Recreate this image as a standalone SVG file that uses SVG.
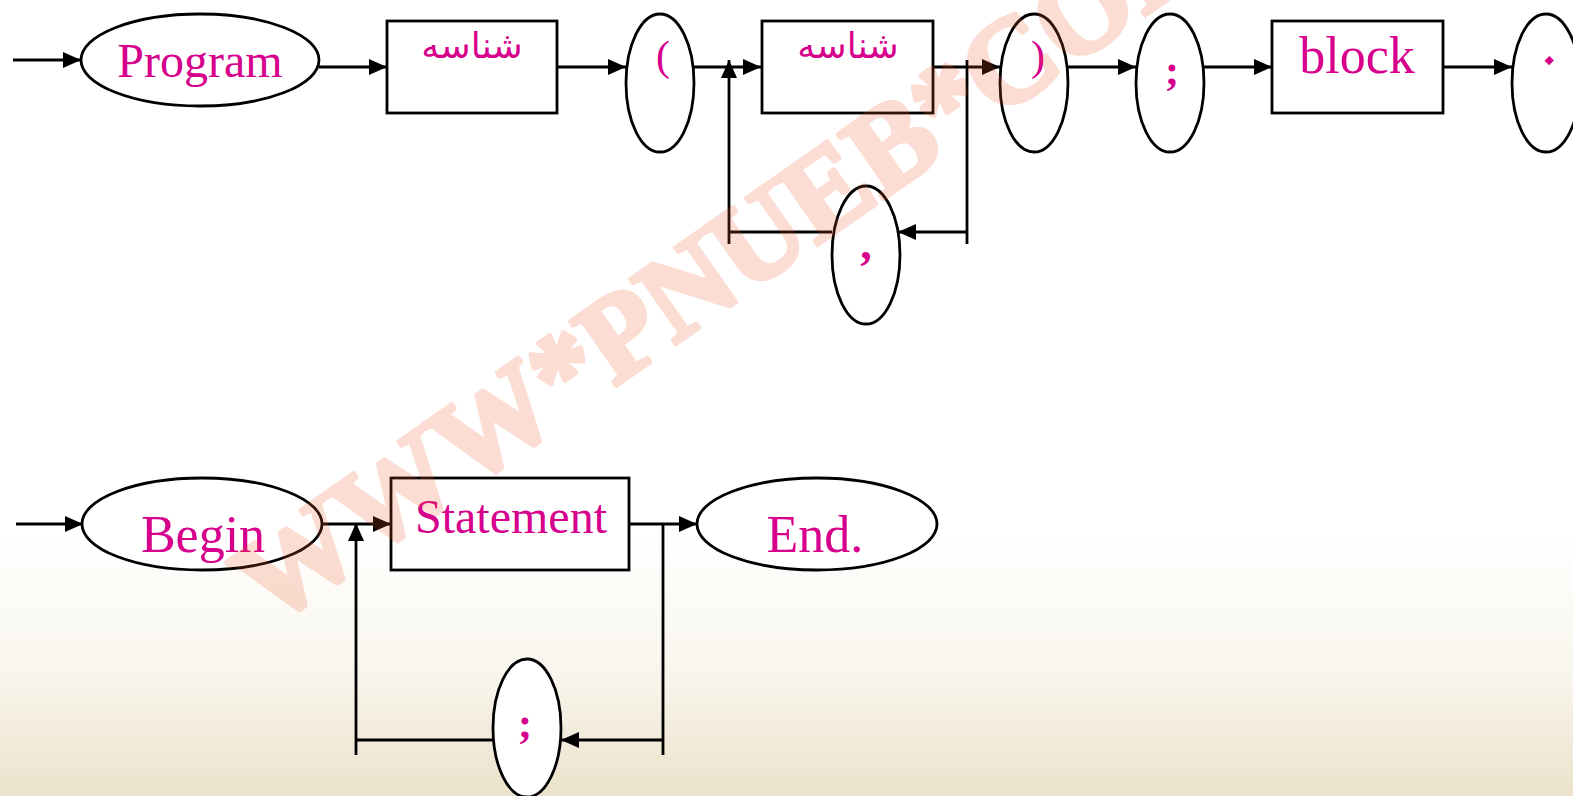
<svg xmlns="http://www.w3.org/2000/svg" width="1573" height="796" viewBox="0 0 1573 796">
<defs>
<linearGradient id="bg" x1="0" y1="0" x2="0" y2="1">
<stop offset="0" stop-color="#ffffff"/>
<stop offset="0.67" stop-color="#ffffff"/>
<stop offset="0.85" stop-color="#f8f5ec"/>
<stop offset="1" stop-color="#ece2cb"/>
</linearGradient>
<marker id="arr" markerUnits="userSpaceOnUse" markerWidth="18" markerHeight="16" refX="18" refY="8" orient="auto" viewBox="0 0 18 16">
<path d="M0,0 L18,8 L0,16 z" fill="#000"/>
</marker>
<style>
.shape{fill:#fff;stroke:#000;stroke-width:2.8}
.ln{fill:none;stroke:#000;stroke-width:2.8}
.ar{marker-end:url(#arr)}
.lbl{fill:#d6008c;font-family:"Liberation Serif","Times New Roman",serif;text-anchor:middle}
.fa{fill:#d6008c;font-family:"DejaVu Sans",sans-serif;text-anchor:middle}
.wm{fill:#f05a28;stroke:#f05a28;stroke-width:5;stroke-linejoin:round;font-family:"Liberation Serif",serif;font-weight:bold}
</style>
</defs>
<rect x="0" y="0" width="1573" height="796" fill="url(#bg)"/>

<g id="connectors">
<path class="ln ar" d="M13,60 H81"/>
<path class="ln ar" d="M319,67 H387"/>
<path class="ln ar" d="M557,67 H626"/>
<path class="ln ar" d="M694,67 H761"/>
<path class="ln ar" d="M932,67 H1000"/>
<path class="ln ar" d="M1068,67 H1136"/>
<path class="ln ar" d="M1204,67 H1272"/>
<path class="ln ar" d="M1443,67 H1512"/>
<path class="ln" d="M967,60 V244"/>
<path class="ln ar" d="M967,232 H898"/>
<path class="ln" d="M832,232 H729"/>
<path class="ln ar" d="M729,244 V60"/>
<path class="ln ar" d="M16,524 H83"/>
<path class="ln ar" d="M322,524 H391"/>
<path class="ln ar" d="M629,524 H697"/>
<path class="ln" d="M663,524 V755"/>
<path class="ln ar" d="M663,740 H561"/>
<path class="ln" d="M493,740 H356"/>
<path class="ln ar" d="M356,755 V523"/>
</g>

<g id="n-program"><ellipse class="shape" cx="200" cy="60" rx="119" ry="46"/><text class="lbl" x="200" y="77" font-size="48">Program</text></g>
<g id="n-id1"><rect class="shape" x="387" y="21" width="170" height="92"/><text class="fa" x="472" y="58" font-size="36">شناسه</text></g>
<g id="n-lparen"><ellipse class="shape" cx="660" cy="83" rx="34" ry="69"/><text class="lbl" x="663" y="70" font-size="42">(</text></g>
<g id="n-id2"><rect class="shape" x="762" y="21" width="171" height="92"/><text class="fa" x="848" y="58" font-size="36">شناسه</text></g>
<g id="n-comma"><ellipse class="shape" cx="866" cy="255" rx="34" ry="69"/><text class="lbl" x="866" y="259" font-size="46" font-weight="bold">,</text></g>
<g id="n-rparen"><ellipse class="shape" cx="1034" cy="83" rx="34" ry="69"/><text class="lbl" x="1038" y="70" font-size="42">)</text></g>
<g id="n-semi1"><ellipse class="shape" cx="1170" cy="83" rx="34" ry="69"/><text class="lbl" x="1172" y="84" font-size="42" font-weight="bold">;</text></g>
<g id="n-block"><rect class="shape" x="1272" y="21" width="171" height="92"/><text class="lbl" x="1357" y="73" font-size="52">block</text></g>
<g id="n-dot"><ellipse class="shape" cx="1546" cy="83" rx="34" ry="69"/><text class="fa" x="0" y="0" font-size="36" font-weight="bold" transform="translate(1549,61) rotate(45) translate(0,3)">.</text></g>

<g id="n-begin"><ellipse class="shape" cx="202" cy="524" rx="120" ry="46"/><text class="lbl" x="203" y="552" font-size="52">Begin</text></g>
<g id="n-statement"><rect class="shape" x="391" y="478" width="238" height="92"/><text class="lbl" x="511" y="533" font-size="48">Statement</text></g>
<g id="n-end"><ellipse class="shape" cx="817" cy="524" rx="120" ry="46"/><text class="lbl" x="815" y="552" font-size="52">End.</text></g>
<g id="n-semi2"><ellipse class="shape" cx="527" cy="728" rx="34" ry="69"/><text class="lbl" x="525" y="737" font-size="42" font-weight="bold">;</text></g>

<g id="watermark" opacity="0.2"><text class="wm" font-size="120" transform="translate(270,628) rotate(-35)">WWW*PNUEB*COM</text></g>
</svg>
